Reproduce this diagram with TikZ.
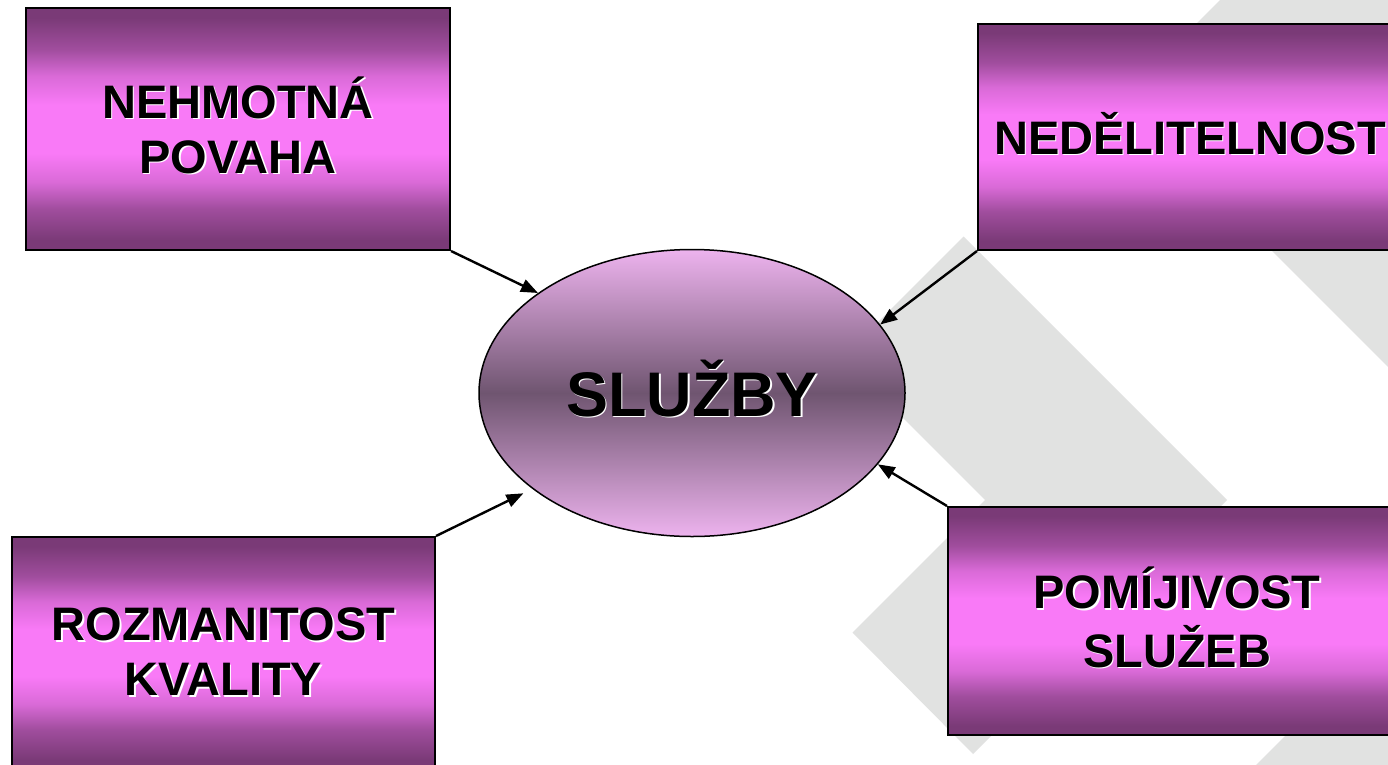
\documentclass[tikz,border=0pt]{standalone}
\usepackage{fontspec}
\setmainfont{Liberation Sans}
\usetikzlibrary{shapes.geometric, arrows.meta}
\definecolor{plumdark}{HTML}{7A3A77}
\definecolor{plumbright}{HTML}{F97AF7}
\colorlet{plumlow}{plumbright!30!plumdark}
\colorlet{plumhigh}{plumbright!75!plumdark}
\definecolor{lilac}{HTML}{EDB3EE}
\definecolor{mauve}{HTML}{6F5570}
\definecolor{chevrongray}{HTML}{E1E2E1}

% dark edges, bright band in the middle
\pgfdeclareverticalshading{plumband}{100bp}{color(0bp)=(plumdark); color(27bp)=(plumdark); color(33.5bp)=(plumlow); color(39bp)=(plumhigh); color(45bp)=(plumbright); color(55bp)=(plumbright); color(61bp)=(plumhigh); color(66.5bp)=(plumlow); color(73bp)=(plumdark); color(100bp)=(plumdark)}

% black text with a light shadow below right
\newcommand{\shadowlabel}[1]{\makebox[0pt][l]{\hspace{1.5pt}\raisebox{-1.5pt}{\color{white}\begin{tabular}{@{}c@{}}#1\end{tabular}}}\begin{tabular}{@{}c@{}}#1\end{tabular}}

\begin{document}
\begin{tikzpicture}[x=1pt, y=-1pt,
  featbox/.style={rectangle, draw=black, line width=2pt, shade, shading=plumband, minimum width=424pt, minimum height=242pt, inner sep=0pt, text height=60pt, text depth=39pt, font=\fontsize{47}{55}\selectfont\bfseries},
  hub/.style={ellipse, draw=black, line width=1.5pt, top color=lilac, bottom color=lilac, middle color=mauve, minimum width=426pt, minimum height=287pt, inner sep=0pt, text height=23pt, text depth=0pt, font=\fontsize{63}{70}\selectfont\bfseries},
  link/.style={-{Triangle[length=17pt, width=13pt]}, line width=2.4pt}]
% Page and background chevrons
\path[use as bounding box, clip] (0,0) rectangle (1388,764);
\fill[white] (0,0) rectangle (1388,764);
\fill[chevrongray] (963.5,236.5) -- (1227,500) -- (973,754) -- (852.5,632.5) -- (985,500) -- (842.5,357.5) -- cycle;
\fill[chevrongray] (1320.5,-100.5) -- (1921,500) -- (1410.5,1010.5) -- (1210.5,810.5) -- (1521,500) -- (1120.5,99.5) -- cycle;

% Properties of services
\node[featbox] (nehmotna) at (238,129) {\shadowlabel{NEHMOTNÁ\\POVAHA}};
\node[featbox, minimum height=226pt] (nedelitelnost) at (1190,137) {\shadowlabel{NEDĚLITELNOST}};
\node[featbox, minimum width=458pt, minimum height=228pt] (pomijivost) at (1177,621) {\shadowlabel{POMÍJIVOST\\SLUŽEB}};
\node[featbox, minimum width=423pt, minimum height=232pt] (rozmanitost) at (223.5,653) {\shadowlabel{ROZMANITOST\\KVALITY}};

% Centre
\node[hub] (sluzby) at (692,393) {\shadowlabel{SLUŽBY}};

% Draw connections
\draw[link] (nehmotna.south east) -- (sluzby.147);
\draw[link] (nedelitelnost.south west) -- (sluzby.20);
\draw[link] (pomijivost.north west) -- (sluzby.-21);
\draw[link, shorten >=10pt] (rozmanitost.north east) -- (sluzby.-149);

\end{tikzpicture}
\end{document}
